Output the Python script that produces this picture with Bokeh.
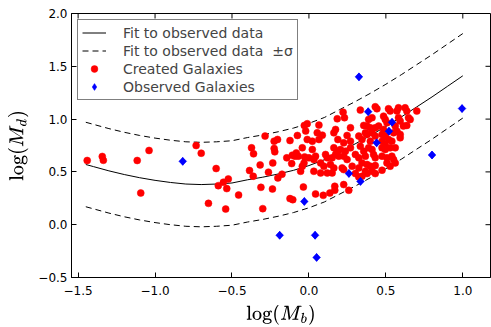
import numpy as np
from bokeh.plotting import figure
from bokeh.models import (Range1d, FixedTicker, Legend, LegendItem,
                          CustomJSTickFormatter)
from bokeh.embed import file_html
from bokeh.resources import INLINE

# ---- data ----
fit_x = [-1.45, -1.4, -1.3, -1.2, -1.1, -1.0, -0.9, -0.8, -0.7, -0.6, -0.5, -0.4, -0.3,
         -0.2, -0.1, 0.0, 0.1, 0.2, 0.3, 0.4, 0.5, 0.6, 0.7, 0.8, 0.9, 1.0]
fit_y = [0.57, 0.55, 0.51, 0.475, 0.445, 0.42, 0.40, 0.385, 0.38, 0.385, 0.395, 0.425, 0.45,
         0.48, 0.515, 0.56, 0.615, 0.69, 0.765, 0.845, 0.93, 1.02, 1.115, 1.21, 1.31, 1.41]
fit_sigma = 0.40

created_x = [
    -1.441, -1.343, -1.336, -1.116, -1.039, -1.093, -0.733, -0.700, -0.653,
    -0.030, -0.226, -0.204, -0.123, -0.075, -0.373, -0.360, -0.226, -0.222, -0.082,
    -0.069, -0.091, -0.028, -0.603, -0.317, -0.235, -0.112, -0.386, -0.362, -0.263,
    -0.175, -0.202, -0.524, -0.556, -0.589, -0.534, -0.457, -0.312, -0.237, -0.036,
    -0.541, -0.300, -0.123, -0.105, -0.285, -0.144, -0.108, -0.043,
    0.222, 0.334, 0.184, 0.231, -0.011, 0.065, 0.173, 0.270, 0.356, 0.087, 0.248,
    0.324, 0.367, -0.011, 0.022, 0.188, 0.226, 0.270, 0.345, 0.022, 0.162, 0.184,
    0.205, 0.237, 0.270, 0.334, 0.356, 0.000, 0.032, 0.043, 0.108, 0.151, 0.173,
    0.194, 0.226, 0.248, 0.302, 0.324, 0.367, 0.076, 0.097, 0.140, 0.162, 0.216,
    0.226, 0.281, 0.324, 0.345, 0.032, 0.076, 0.119, 0.151, 0.302, 0.324, 0.345,
    0.367, 0.043, 0.093, 0.136, 0.168, 0.168, 0.226, 0.259,
    -0.021, 0.162, -0.054, -0.032, 0.119, -0.043,
    0.431, 0.442, 0.517, 0.528, 0.572, 0.625, 0.636, 0.701, 0.388, 0.410, 0.485,
    0.496, 0.507, 0.582, 0.593, 0.647, 0.658, 0.614, 0.636, 0.378, 0.399, 0.431,
    0.453, 0.485, 0.561, 0.572, 0.593, 0.550, 0.378, 0.410, 0.431, 0.475, 0.496,
    0.399, 0.475, 0.496, 0.517, 0.539, 0.388, 0.410, 0.475, 0.496, 0.528, 0.561,
    0.420, 0.431, 0.475, 0.507, 0.539, 0.550, 0.378, 0.399, 0.431, 0.507, 0.528,
    0.410, 0.431, 0.475, 0.378, 0.582, 0.593, 0.054, 0.065, 0.561,
]
created_y = [
    0.608, 0.646, 0.610, 0.608, 0.703, 0.300, 0.750, 0.677, 0.202,
    0.940, 0.791, 0.807, 0.797, 0.845, 0.728, 0.671, 0.722, 0.690, 0.680,
    0.649, 0.649, 0.642, 0.532, 0.566, 0.585, 0.579, 0.513, 0.459, 0.497,
    0.478, 0.443, 0.433, 0.402, 0.370, 0.342, 0.281, 0.354, 0.338, 0.357,
    0.148, 0.152, 0.247, 0.237, 0.839, 0.633, 0.658, 0.728,
    1.066, 1.085, 1.003, 1.013, 0.956, 0.943, 0.902, 0.918, 0.940, 0.848, 0.845,
    0.839, 0.870, 0.807, 0.791, 0.807, 0.775, 0.791, 0.807, 0.712, 0.728, 0.696,
    0.712, 0.696, 0.728, 0.744, 0.696, 0.633, 0.617, 0.649, 0.665, 0.633, 0.665,
    0.649, 0.649, 0.617, 0.665, 0.633, 0.649, 0.585, 0.554, 0.570, 0.538, 0.538,
    0.522, 0.554, 0.538, 0.585, 0.506, 0.490, 0.490, 0.490, 0.484, 0.452, 0.459,
    0.506, 0.291, 0.278, 0.300, 0.364, 0.326, 0.380, 0.326,
    0.887, 0.870, 0.506, 0.585, 0.633, 0.554,
    1.117, 1.098, 1.098, 1.076, 1.076, 1.107, 1.076, 1.076, 0.997, 1.013, 1.028,
    0.997, 0.965, 1.013, 0.981, 1.013, 0.997, 0.934, 0.940, 0.934, 0.918, 0.918,
    0.934, 0.902, 0.934, 0.886, 0.855, 0.870, 0.855, 0.870, 0.839, 0.855, 0.839,
    0.791, 0.791, 0.760, 0.807, 0.791, 0.728, 0.712, 0.728, 0.712, 0.728, 0.728,
    0.665, 0.633, 0.649, 0.633, 0.649, 0.617, 0.570, 0.554, 0.560, 0.585, 0.554,
    0.506, 0.484, 0.516, 0.484, 1.107, 0.823, 0.870, 0.807, 0.585,
]

observed_x = [-0.82, -0.19, 0.04, 0.05, -0.03, 0.26, 0.335, 0.325, 0.385, 0.44, 0.52, 0.54, 0.80, 0.995]
observed_y = [0.60, -0.10, -0.10, -0.31, 0.22, 0.485, 0.41, 1.40, 1.07, 0.775, 0.885, 0.97, 0.66, 1.10]

x_ticks = [-1.5, -1.0, -0.5, 0.0, 0.5, 1.0]
y_ticks = [-0.5, 0.0, 0.5, 1.0, 1.5, 2.0]
x_lim = (-1.543, 1.18)
y_lim = (-0.5, 2.0)

FONT = "DejaVu Sans"
W, H = 491, 327
BL, BR, BT, BB = 71, 1, 13, 50
TICK = 5

p = figure(width=W, height=H, output_backend="svg", toolbar_location=None,
           x_range=Range1d(*x_lim), y_range=Range1d(*y_lim),
           min_border_left=BL, min_border_right=BR, min_border_top=BT, min_border_bottom=BB)
p.grid.visible = False
p.outline_line_color = "black"
p.background_fill_color = "white"

fmt = CustomJSTickFormatter(code="return tick.toFixed(1).replace('-', '\u2212');")

for ax, ticks in ((p.xaxis[0], x_ticks), (p.yaxis[0], y_ticks)):
    ax.ticker = FixedTicker(ticks=ticks)
    ax.major_tick_in = TICK
    ax.major_tick_out = 0
    ax.minor_tick_line_color = None
    ax.axis_line_color = "black"
    ax.major_tick_line_color = "black"
    ax.formatter = fmt
    ax.major_label_text_font = FONT
    ax.major_label_text_font_size = "12px"
    ax.major_label_text_color = "black"
    ax.axis_label_text_font_size = "17px"
    ax.axis_label_text_color = "black"

p.xaxis[0].major_label_standoff = 8
p.yaxis[0].major_label_standoff = 4
p.xaxis[0].axis_label_standoff = 7
p.yaxis[0].axis_label_standoff = 7
p.xaxis[0].axis_label = r"$$\log(M_b)$$"
p.yaxis[0].axis_label = r"$$\log(M_d)$$"

# inward ticks on the top and right spines (matplotlib-style box)
frame_w = W - BL - BR
frame_h = H - BT - BB
dx = TICK * (x_lim[1] - x_lim[0]) / frame_w
dy = TICK * (y_lim[1] - y_lim[0]) / frame_h
p.segment(x0=x_ticks, y0=[y_lim[1]] * len(x_ticks), x1=x_ticks,
          y1=[y_lim[1] - dy] * len(x_ticks), line_color="black", line_width=1)
p.segment(x0=[x_lim[1]] * len(y_ticks), y0=y_ticks, x1=[x_lim[1] - dx] * len(y_ticks),
          y1=y_ticks, line_color="black", line_width=1)

fx = np.array(fit_x)
fy = np.array(fit_y)
r_fit = p.line(fx, fy, line_color="black", line_width=1)
r_up = p.line(fx, fy + fit_sigma, line_color="black", line_width=1, line_dash="6 4")
r_lo = p.line(fx, fy - fit_sigma, line_color="black", line_width=1, line_dash="6 4")
r_red = p.scatter(created_x, created_y, marker="circle", size=7,
                  fill_color="#ff0000", line_color="#ff0000", line_width=0.5)
# diamond glyph used for the legend key; it sits hidden beneath the rotated squares
r_blue_key = p.scatter(observed_x, observed_y, marker="diamond", size=8,
                       fill_color="#0000ff", line_color="#0000ff", line_width=0.5)
r_blue = p.scatter(observed_x, observed_y, marker="square", angle=np.pi / 4, size=5.5,
                   fill_color="#0000ff", line_color="#0000ff", line_width=0.5)

legend = Legend(items=[
    LegendItem(label="Fit to observed data", renderers=[r_fit]),
    LegendItem(label="Fit to observed data\u00a0\u00a0\u00b1\u03c3", renderers=[r_up]),
    LegendItem(label="Created Galaxies", renderers=[r_red]),
    LegendItem(label="Observed Galaxies", renderers=[r_blue_key]),
], location="top_left", margin=6, padding=4, spacing=1, label_height=17,
    glyph_height=17, glyph_width=24, label_standoff=17,
    label_text_font=FONT, label_text_font_size="14px",
    border_line_color="black", border_line_width=1, background_fill_alpha=1.0)
p.add_layout(legend)

open("out.html", "w").write(file_html(p, INLINE))
